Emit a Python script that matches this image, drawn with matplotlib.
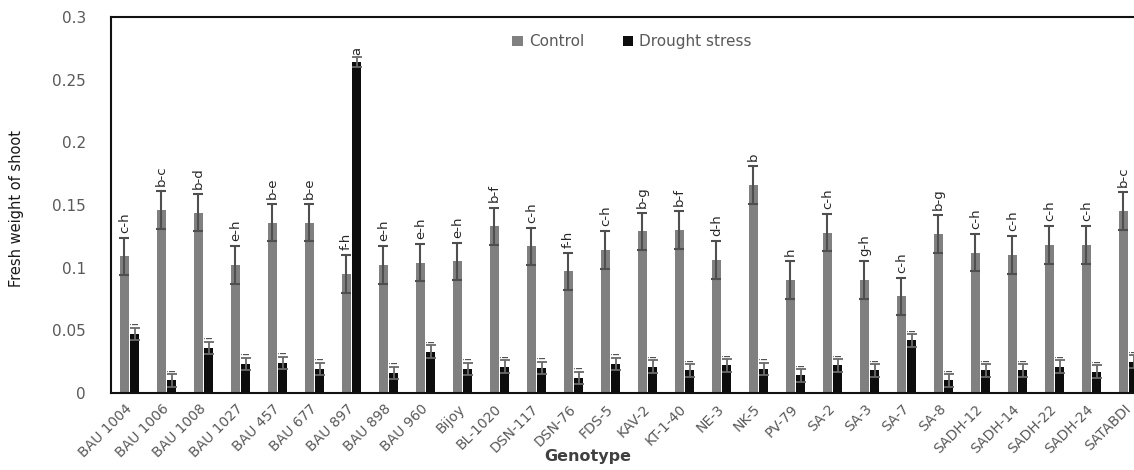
import matplotlib

matplotlib.use('Agg')
import matplotlib.pyplot as plt
import numpy as np

genotypes = ['BAU 1004', 'BAU 1006', 'BAU 1008', 'BAU 1027', 'BAU 457', 'BAU 677', 'BAU 897',
             'BAU 898', 'BAU 960', 'Bijoy', 'BL-1020', 'DSN-117', 'DSN-76', 'FDS-5', 'KAV-2',
             'KT-1-40', 'NE-3', 'NK-5', 'PV-79', 'SA-2', 'SA-3', 'SA-7', 'SA-8', 'SADH-12',
             'SADH-14', 'SADH-22', 'SADH-24', 'SATABDI']

control = [0.109, 0.146, 0.144, 0.102, 0.136, 0.136, 0.095, 0.102, 0.104, 0.105, 0.133, 0.117,
           0.097, 0.114, 0.129, 0.130, 0.106, 0.166, 0.090, 0.128, 0.090, 0.077, 0.127, 0.112,
           0.110, 0.118, 0.118, 0.145]
control_err = [0.015, 0.015, 0.015, 0.015, 0.015, 0.015, 0.015, 0.015, 0.015, 0.015, 0.015, 0.015,
               0.015, 0.015, 0.015, 0.015, 0.015, 0.015, 0.015, 0.015, 0.015, 0.015, 0.015, 0.015,
               0.015, 0.015, 0.015, 0.015]

drought = [0.047, 0.010, 0.036, 0.023, 0.024, 0.019, 0.264, 0.016, 0.033, 0.019, 0.021, 0.020,
           0.012, 0.023, 0.021, 0.018, 0.022, 0.019, 0.014, 0.022, 0.018, 0.042, 0.010, 0.018,
           0.018, 0.021, 0.017, 0.025]
drought_err = [0.005, 0.005, 0.005, 0.005, 0.005, 0.005, 0.004, 0.005, 0.005, 0.005, 0.005, 0.005,
               0.005, 0.005, 0.005, 0.005, 0.005, 0.005, 0.005, 0.005, 0.005, 0.005, 0.005, 0.005,
               0.005, 0.005, 0.005, 0.005]

control_letters = ['c-h', 'b-c', 'b-d', 'e-h', 'b-e', 'b-e', 'f-h', 'e-h', 'e-h', 'e-h', 'b-f',
                   'c-h', 'f-h', 'c-h', 'b-g', 'b-f', 'd-h', 'b', 'h', 'c-h', 'g-h', 'c-h', 'b-g',
                   'c-h', 'c-h', 'c-h', 'c-h', 'b-c']
drought_letters = ['i'] * 6 + ['a'] + ['i'] * 21

plt.rcParams['font.family'] = ['DejaVu Sans']

fig = plt.figure(figsize=(11.34, 4.70), dpi=100)
ax = fig.add_axes([111 / 1134, 77 / 470, 1036 / 1134, 376 / 470])

x = np.arange(len(genotypes))
w = 0.25
off = 0.14

ax.bar(x - off, control, w, color='#808080', label='Control', zorder=2)
ax.errorbar(x - off, control, yerr=control_err, fmt='none', ecolor='#4f4f4f',
            elinewidth=1.5, capsize=3.5, capthick=1.5, zorder=3)
ax.bar(x + off, drought, w, color='#0d0d0d', label='Drought stress', zorder=2)
ax.errorbar(x + off, drought, yerr=drought_err, fmt='none', ecolor='#6a6a6a',
            elinewidth=1.3, capsize=3.5, capthick=1.3, zorder=3)

for i in range(len(genotypes)):
    ax.text(x[i] - off, control[i] + control_err[i] + 0.004, control_letters[i],
            rotation=90, ha='center', va='bottom', fontsize=9.5, color='#262626')
    ax.text(x[i] + off, drought[i] + drought_err[i] + 0.002, drought_letters[i],
            rotation=90, ha='center', va='bottom',
            fontsize=9.5 if drought_letters[i] == 'a' else 7, color='#262626')

ax.set_xlim(-0.5, len(genotypes) - 0.5)
ax.set_ylim(0, 0.3)
ax.set_yticks([0, 0.05, 0.1, 0.15, 0.2, 0.25, 0.3])
ax.set_yticklabels(['0', '0.05', '0.1', '0.15', '0.2', '0.25', '0.3'])
ax.tick_params(axis='y', length=0, pad=18, labelsize=11, labelcolor='#595959')
ax.set_xticks(x)
ax.set_xticklabels(genotypes, rotation=45, ha='right', va='center', rotation_mode='anchor')
ax.tick_params(axis='x', length=0, pad=10, labelsize=10, labelcolor='#595959')

for s in ['left', 'bottom', 'top']:
    ax.spines[s].set_color('#111111')
    ax.spines[s].set_linewidth(1.5)
ax.spines['right'].set_visible(False)

ax.set_ylabel('Fresh weight of shoot', fontsize=10.5, color='#1a1a1a')
ax.yaxis.set_label_coords(-87 / 1036, 0.49)
ax.set_xlabel('Genotype', fontsize=11.5, fontweight='bold', color='#404040')
ax.xaxis.set_label_coords(0.46, -0.148)

ax.legend(loc='center', bbox_to_anchor=(0.503, 0.934), ncol=2, frameon=False,
          handlelength=0.7, handleheight=0.7, handletextpad=0.4, columnspacing=2.5,
          fontsize=11, labelcolor='#595959')

fig.savefig('out.png', dpi=100)
